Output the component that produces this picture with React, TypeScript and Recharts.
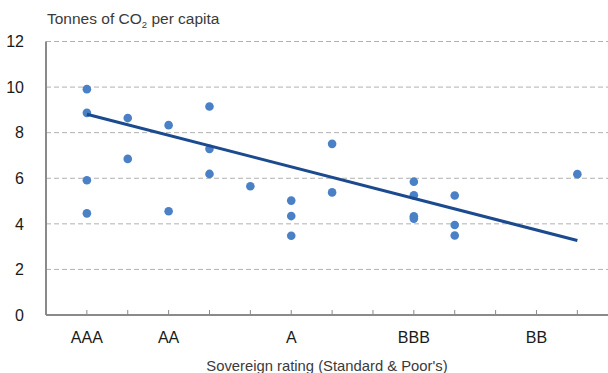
import {
  ScatterChart,
  Scatter,
  XAxis,
  YAxis,
  CartesianGrid,
} from "recharts";

// Rating notches from AAA downwards; only the broad grades get a label
const ratings = ["AAA", "AA+", "AA", "AA-", "A+", "A", "A-", "BBB+", "BBB", "BBB-", "BB+", "BB", "BB-"];
const tickLabels = ["AAA", "", "AA", "", "", "A", "", "", "BBB", "", "", "BB", ""];
const yTicks = [0, 2, 4, 6, 8, 10, 12];

// One entry per country: rating notch index and emissions (t CO2 per head)
const countryRating = [0, 0, 0, 0, 1, 1, 2, 2, 3, 3, 3, 4, 5, 5, 5, 6, 6, 8, 8, 8, 8, 9, 9, 9, 12];
const countryCo2 = [
  9.91, 8.87, 5.91, 4.46, 8.64, 6.85, 8.33, 4.55, 9.15, 7.29, 6.19, 5.65, 5.02,
  4.34, 3.48, 7.51, 5.38, 5.85, 5.25, 4.33, 4.23, 5.24, 3.95, 3.49, 6.18,
];

// Fitted trend, AAA to BB-
const fitRating = [0, 12];
const fitCo2 = [8.81, 3.27];

const countries = countryRating.map((r, i) => ({ rating: r, co2: countryCo2[i] }));
const trend = fitRating.map((r, i) => ({ rating: r, co2: fitCo2[i] }));

const FONT = '"Liberation Sans", Arial, Helvetica, sans-serif';

export default function App() {
  return (
    <div
      style={{
        position: "absolute",
        left: 0,
        top: 0,
        width: 608,
        height: 373,
        overflow: "hidden",
        background: "#fff",
        fontFamily: FONT,
      }}
    >
      <div
        style={{
          position: "absolute",
          left: 47,
          top: 10,
          fontSize: 15.5,
          color: "#3a3a3a",
          whiteSpace: "nowrap",
        }}
      >
        Tonnes of CO<sub style={{ fontSize: 9.5 }}>2</sub> per capita
      </div>

      <ScatterChart
        width={608}
        height={373}
        margin={{ top: 41.5, right: 0, bottom: 28, left: 0 }}
      >
        <CartesianGrid
          vertical={false}
          stroke="#b0b0b0"
          strokeDasharray="5 3"
          strokeWidth={1}
        />
        <XAxis
          type="number"
          dataKey="rating"
          domain={[-1, 12.75]}
          ticks={ratings.map((_, i) => i)}
          tickFormatter={(v: number) => tickLabels[v] ?? ""}
          allowDataOverflow
          height={30}
          axisLine={{ stroke: "#8a8a8a", strokeWidth: 2 }}
          tickLine={{ stroke: "#8a8a8a" }}
          tickSize={-5}
          tickMargin={22}
          tick={{ fill: "#1a1a1a", fontSize: 16, fontFamily: FONT }}
        />
        <YAxis
          type="number"
          dataKey="co2"
          domain={[0, 12]}
          ticks={yTicks}
          width={46}
          axisLine={{ stroke: "#8a8a8a", strokeWidth: 2 }}
          tickLine={false}
          tickMargin={16}
          tick={{ fill: "#1a1a1a", fontSize: 16, fontFamily: FONT }}
        />
        <Scatter
          data={countries}
          fill="#4a80c6"
          isAnimationActive={false}
          shape={(p: any) => <circle cx={p.cx} cy={p.cy} r={4.3} fill="#4a80c6" />}
        />
        <Scatter
          data={trend}
          line={{ stroke: "#1c4a8e", strokeWidth: 3 }}
          lineType="joint"
          isAnimationActive={false}
          shape={() => <g />}
        />
      </ScatterChart>

      <div
        style={{
          position: "absolute",
          left: 46,
          width: 562,
          top: 357.5,
          textAlign: "center",
          fontSize: 14.8,
          color: "#3a3a3a",
          whiteSpace: "nowrap",
        }}
      >
        Sovereign rating (Standard &amp; Poor's)
      </div>
    </div>
  );
}
